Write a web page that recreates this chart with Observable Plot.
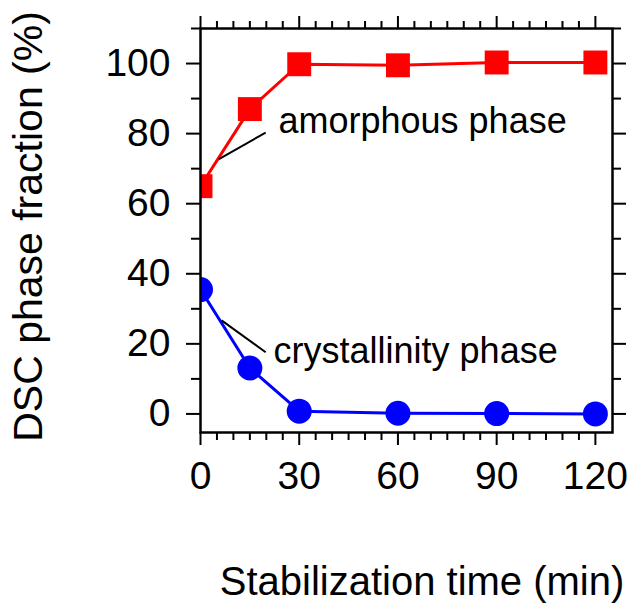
<!DOCTYPE html>
<html><head><meta charset="utf-8">
<script src="https://cdn.jsdelivr.net/npm/d3@7"></script>
<script src="https://cdn.jsdelivr.net/npm/@observablehq/plot@0.6"></script>
<style>body{margin:0;background:#fff}</style>
</head><body><div id="chart"></div>
<script>
// Data
const times = [0, 15, 30, 60, 90, 120];
const amorphous = [65.0, 87.0, 99.8, 99.5, 100.3, 100.3];
const crystallinity = [35.5, 13.1, 0.8, 0.2, 0.1, 0.0];

const xMajorTicks = [0, 30, 60, 90, 120];
const yMajorTicks = [0, 20, 40, 60, 80, 100];
const xMinorTicks = d3.range(5, 121, 5).filter(v => v % 30 !== 0);
const yMinorTicks = [10, 30, 50, 70, 90, 110];

const xTitle = "Stabilization time (min)";
const yTitle = "DSC phase fraction (%)";

// annotation labels and leader lines (data coordinates)
const labelText = ["amorphous phase", "crystallinity phase"];
const labelX = [23.7, 22.2];
const labelY = [83.4, 17.7];
const leadX1 = [5.6, 6.4];
const leadY1 = [72.7, 26.7];
const leadX2 = [19.8, 19.8];
const leadY2 = [80.3, 17.6];

const amorphData = times.map((t, i) => ({time: t, value: amorphous[i]}));
const crystData = times.map((t, i) => ({time: t, value: crystallinity[i]}));
const labels = labelText.map((t, i) => ({text: t, x: labelX[i], y: labelY[i]}));
const leaders = leadX1.map((v, i) => ({x1: v, y1: leadY1[i], x2: leadX2[i], y2: leadY2[i]}));

const blank = () => "";
const tw = 2;

const chart = Plot.plot({
  width: 630, height: 603,
  marginLeft: 200, marginRight: 18, marginTop: 28, marginBottom: 171,
  x: {domain: [0, 125.2]},
  y: {domain: [-5.3, 110]},
  style: {fontFamily: "'Liberation Sans', Arial, sans-serif", background: "white", color: "black"},
  marks: [
    Plot.axisX({anchor: "bottom", ticks: xMajorTicks, tickSize: 13, tickPadding: 16, fontSize: 39, strokeWidth: tw, label: null}),
    Plot.axisX({anchor: "bottom", ticks: xMinorTicks, tickSize: 8, tickFormat: blank, strokeWidth: tw, label: null}),
    Plot.axisX({anchor: "top", ticks: xMajorTicks, tickSize: 13, tickFormat: blank, strokeWidth: tw, label: null}),
    Plot.axisX({anchor: "top", ticks: xMinorTicks, tickSize: 8, tickFormat: blank, strokeWidth: tw, label: null}),
    Plot.axisY({anchor: "left", ticks: yMajorTicks, tickSize: 14, tickPadding: 16, fontSize: 39, strokeWidth: tw, label: null}),
    Plot.axisY({anchor: "left", ticks: yMinorTicks, tickSize: 9, tickFormat: blank, strokeWidth: tw, label: null}),
    Plot.axisY({anchor: "right", ticks: yMajorTicks, tickSize: 13, tickFormat: blank, strokeWidth: tw, label: null}),
    Plot.axisY({anchor: "right", ticks: yMinorTicks, tickSize: 8, tickFormat: blank, strokeWidth: tw, label: null}),
    Plot.line(amorphData, {x: "time", y: "value", stroke: "#ff0000", strokeWidth: 3, clip: true}),
    Plot.line(crystData, {x: "time", y: "value", stroke: "#0000ff", strokeWidth: 3, clip: true}),
    Plot.dot(amorphData, {x: "time", y: "value", symbol: "square", r: 13.5, fill: "#ff0000", clip: true}),
    Plot.dot(crystData, {x: "time", y: "value", r: 12.5, fill: "#0000ff", clip: true}),
    Plot.link(leaders, {x1: "x1", y1: "y1", x2: "x2", y2: "y2", stroke: "black", strokeWidth: 2}),
    Plot.text(labels, {x: "x", y: "y", text: "text", textAnchor: "start", lineAnchor: "middle", fontSize: 36, fill: "black"}),
    Plot.frame({stroke: "black", strokeWidth: 2.5}),
    Plot.text([xTitle], {text: d => d, frameAnchor: "bottom", textAnchor: "middle", dy: 149.5, dx: 15.5, lineAnchor: "middle", fontSize: 40, fill: "black"}),
    Plot.text([yTitle], {text: d => d, frameAnchor: "left", textAnchor: "middle", dx: -172, dy: -4, rotate: -90, lineAnchor: "middle", fontSize: 41, fill: "black"})
  ]
});
document.getElementById("chart").appendChild(chart);
</script>
</body></html>
